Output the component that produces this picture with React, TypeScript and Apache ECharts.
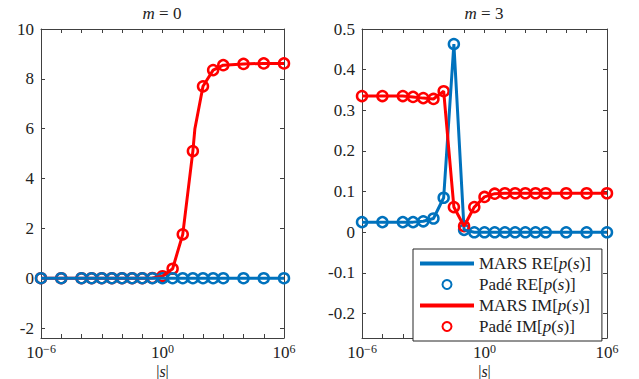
import React, { useEffect, useRef } from "react";
import * as echarts from "echarts";

// |s| sample points (log-spaced)
const sValues = [1e-6, 1e-5, 1e-4, 3.162e-4, 1e-3, 3.162e-3, 1e-2, 3.162e-2, 1e-1, 3.162e-1, 1, 3.162, 10, 31.62, 100, 316.2, 1e3, 1e4, 1e5, 1e6];

// m = 0
const leftRe = [0, 0, 0, 0, 0, 0, 0, 0, 0, 0, 0, 0, 0, 0, 0, 0, 0, 0, 0, 0];
const leftImPade = [0, 0, 0, 0, 0, 0, 0, 0, 0, 0.01, 0.08, 0.38, 1.76, 5.1, 7.7, 8.35, 8.55, 8.6, 8.62, 8.62];
const leftImMarsS = [1e-6, 1e-5, 1e-4, 3.162e-4, 1e-3, 3.162e-3, 1e-2, 3.162e-2, 1e-1, 3.162e-1, 1, 3.162, 10, 31.62, 39.8, 100, 316.2, 1e3, 1e4, 1e5, 1e6];
const leftImMars = [0, 0, 0, 0, 0, 0, 0, 0, 0, 0.01, 0.08, 0.38, 1.76, 5.1, 6.0, 7.7, 8.35, 8.55, 8.6, 8.62, 8.62];

// m = 3
const rightRe = [0.025, 0.025, 0.025, 0.025, 0.027, 0.034, 0.085, 0.463, 0.006, 0, 0, 0, 0, 0, 0, 0, 0, 0, 0, 0];
const rightIm = [0.335, 0.335, 0.335, 0.333, 0.33, 0.328, 0.347, 0.062, 0.015, 0.062, 0.087, 0.095, 0.096, 0.096, 0.096, 0.096, 0.096, 0.096, 0.096, 0.096];

// ticks
const xTickValues = [1e-6, 1e-5, 1e-4, 1e-3, 1e-2, 1e-1, 1, 10, 100, 1e3, 1e4, 1e5, 1e6];
const xLabelValues = [1e-6, 1, 1e6];
const leftYTicks = [-2, 0, 2, 4, 6, 8, 10];
const rightYTicks = [-0.2, -0.1, 0, 0.1, 0.2, 0.3, 0.4, 0.5];

const titles = ["0", "3"];
const legendNames = ["MARS RE", "Padé RE", "MARS IM", "Padé IM"];

const BLUE = "#0072BD";
const RED = "#FF0000";
const AX = "#404040";
const TXT = "#222222";
const FONT = "'Liberation Serif', 'DejaVu Serif', 'Times New Roman', serif";
const FS = 17;

const pairs = (xs: number[], ys: number[]) => xs.map((x, i) => [x, ys[i]]);

export default function App() {
  const ref = useRef<HTMLDivElement>(null);
  useEffect(() => {
    if (!ref.current) return;
    const chart = echarts.init(ref.current, null, { renderer: "svg" });

    const grids = [
      { left: 41, right: 355, top: 29, bottom: 41, outerBoundsMode: "none", containLabel: false },
      { left: 362, right: 32, top: 29, bottom: 41, outerBoundsMode: "none", containLabel: false },
    ];

    const tickCfg = (vals: number[]) => ({
      show: true,
      inside: true,
      length: 4,
      customValues: vals,
      lineStyle: { color: AX, width: 1 },
    });
    const lineCfg = { show: true, onZero: false, lineStyle: { color: AX, width: 1 } };

    const xAxes: any[] = [];
    const yAxes: any[] = [];
    const yConf = [
      { min: -2.4, max: 10, ticks: leftYTicks, fmt: (v: number) => String(Math.round(v)) },
      { min: -0.26, max: 0.5, ticks: rightYTicks, fmt: (v: number) => (Math.abs(v) < 1e-9 ? "0" : v.toFixed(1)) },
    ];
    grids.forEach((_, g) => {
      xAxes.push({
        type: "log",
        logBase: 10,
        gridIndex: g,
        min: 1e-6,
        max: 1e6,
        position: "bottom",
        axisLine: lineCfg,
        axisTick: tickCfg(xTickValues),
        splitLine: { show: false },
        minorTick: { show: false },
        axisLabel: {
          show: true,
          customValues: xLabelValues,
          margin: 6,
          formatter: (v: number) => {
            const e = Math.round(Math.log10(v));
            return `{b|10}{e|${e < 0 ? "−" + -e : e}}`;
          },
          rich: {
            b: { fontFamily: FONT, fontSize: FS, lineHeight: 16, color: TXT },
            e: { fontFamily: FONT, fontSize: 12, lineHeight: 10, color: TXT, padding: [0, 0, 7, 0] },
          },
        },
        name: "{t||}{i|s}{t||}",
        nameLocation: "middle",
        nameGap: 26,
        nameMoveOverlap: false,
        nameTextStyle: {
          lineHeight: 14,
          rich: {
            t: { fontFamily: FONT, fontSize: 16, lineHeight: 14, color: TXT },
            i: { fontFamily: FONT, fontSize: 16, lineHeight: 14, fontStyle: "italic", color: TXT },
          },
        },
      });
      xAxes.push({
        type: "log",
        logBase: 10,
        gridIndex: g,
        min: 1e-6,
        max: 1e6,
        position: "top",
        axisLine: lineCfg,
        axisTick: tickCfg(xTickValues),
        splitLine: { show: false },
        axisLabel: { show: false },
      });
      const yc = yConf[g];
      yAxes.push({
        type: "value",
        gridIndex: g,
        min: yc.min,
        max: yc.max,
        position: "left",
        axisLine: lineCfg,
        axisTick: tickCfg(yc.ticks),
        splitLine: { show: false },
        axisLabel: {
          show: true,
          customValues: yc.ticks,
          margin: 7,
          formatter: yc.fmt,
          fontFamily: FONT,
          fontSize: FS,
          color: TXT,
        },
      });
      yAxes.push({
        type: "value",
        gridIndex: g,
        min: yc.min,
        max: yc.max,
        position: "right",
        axisLine: lineCfg,
        axisTick: tickCfg(yc.ticks),
        splitLine: { show: false },
        axisLabel: { show: false },
      });
    });

    const lineSeries = (name: string, data: any[], color: string, xi: number, yi: number) => ({
      type: "line",
      name,
      data,
      xAxisIndex: xi,
      yAxisIndex: yi,
      symbol: "none",
      lineStyle: { color, width: 3 },
      itemStyle: { color },
      silent: true,
    });
    const circleSeries = (name: string, data: any[], color: string, xi: number, yi: number) => ({
      type: "scatter",
      name,
      data,
      xAxisIndex: xi,
      yAxisIndex: yi,
      symbol: "circle",
      symbolSize: 10,
      itemStyle: { color: "rgba(255,255,255,0)", borderColor: color, borderWidth: 2.5, opacity: 1 },
      silent: true,
    });

    const series = [
      // m = 0 (blue drawn on top)
      lineSeries("MARS IM", pairs(leftImMarsS, leftImMars), RED, 0, 0),
      circleSeries("Padé IM", pairs(sValues, leftImPade), RED, 0, 0),
      lineSeries("MARS RE", pairs(sValues, leftRe), BLUE, 0, 0),
      circleSeries("Padé RE", pairs(sValues, leftRe), BLUE, 0, 0),
      // m = 3
      lineSeries("MARS RE", pairs(sValues, rightRe), BLUE, 2, 2),
      circleSeries("Padé RE", pairs(sValues, rightRe), BLUE, 2, 2),
      lineSeries("MARS IM", pairs(sValues, rightIm), RED, 2, 2),
      circleSeries("Padé IM", pairs(sValues, rightIm), RED, 2, 2),
    ];

    const titleRich = {
      i: { fontFamily: FONT, fontSize: FS, fontStyle: "italic", fontWeight: "normal", color: TXT },
      n: { fontFamily: FONT, fontSize: FS, fontWeight: "normal", color: TXT },
    };

    const hiddenSymbol = { color: "rgba(0,0,0,0)", borderColor: "rgba(0,0,0,0)", borderWidth: 0 };
    const legendData = legendNames.map((n, k) =>
      k % 2 === 0
        ? { name: n, itemStyle: hiddenSymbol, lineStyle: { width: 4 } }
        : { name: n }
    );

    chart.setOption({
      animation: false,
      backgroundColor: "#ffffff",
      title: titles.map((t, k) => ({
        text: `{i|m}{n| = ${t}}`,
        left: k === 0 ? 162 : 484,
        top: 5,
        textAlign: "center",
        textStyle: { fontWeight: "normal", fontFamily: FONT, rich: titleRich },
        padding: 0,
      })),
      grid: grids,
      xAxis: xAxes,
      yAxis: yAxes,
      legend: {
        data: legendData,
        orient: "vertical",
        left: 413,
        top: 249,
        itemWidth: 54,
        itemHeight: 9,
        itemGap: 4,
        padding: [6, 11, 6, 5],
        backgroundColor: "#ffffff",
        borderColor: "#262626",
        borderWidth: 1,
        borderRadius: 0,
        selectedMode: false,
        formatter: (name: string) => `{n|${name}[}{i|p}{n|(}{i|s}{n|)]}`,
        textStyle: {
          fontFamily: FONT,
          fontSize: FS,
          lineHeight: 17,
          color: TXT,
          rich: {
            n: { fontFamily: FONT, fontSize: FS, lineHeight: 17, color: TXT },
            i: { fontFamily: FONT, fontSize: FS, lineHeight: 17, fontStyle: "italic", color: TXT },
          },
        },
      },
      series,
    });
    return () => chart.dispose();
  }, []);
  return <div ref={ref} style={{ position: "fixed", left: 0, top: 0, width: 639, height: 379 }} />;
}
